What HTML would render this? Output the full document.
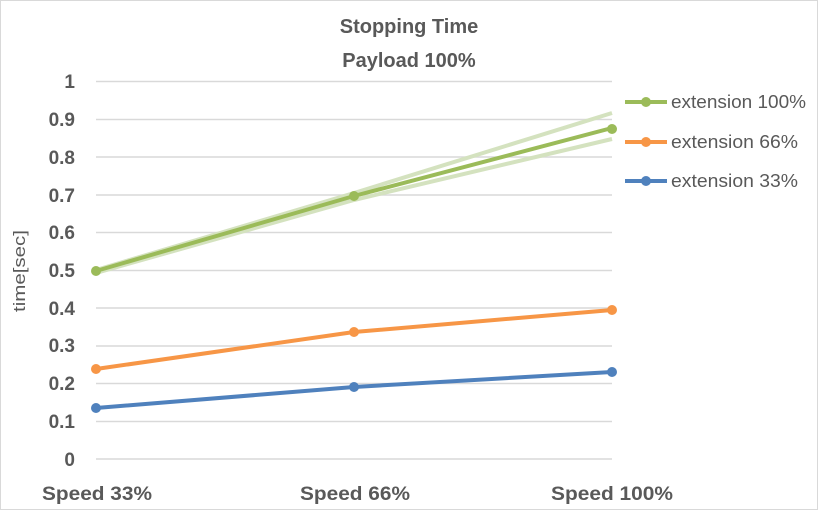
<!DOCTYPE html><html><head><style>body{margin:0;background:#fff}</style></head><body>
<svg width="819" height="511" xmlns="http://www.w3.org/2000/svg" font-family="Liberation Sans, sans-serif">
<rect x="0.5" y="0.5" width="817" height="509" fill="#fff" stroke="#d9d9d9"/>
<text x="409" y="33" text-anchor="middle" font-size="20" font-weight="bold" fill="#595959">Stopping Time</text>
<text x="409" y="67" text-anchor="middle" font-size="20" font-weight="bold" fill="#595959">Payload 100%</text>
<g stroke="#d9d9d9" stroke-width="1.5">
<line x1="96" x2="612" y1="81.5" y2="81.5"/><line x1="96" x2="612" y1="119.5" y2="119.5"/><line x1="96" x2="612" y1="157" y2="157"/><line x1="96" x2="612" y1="195" y2="195"/><line x1="96" x2="612" y1="232.5" y2="232.5"/><line x1="96" x2="612" y1="270.5" y2="270.5"/><line x1="96" x2="612" y1="308" y2="308"/><line x1="96" x2="612" y1="346" y2="346"/><line x1="96" x2="612" y1="383.5" y2="383.5"/><line x1="96" x2="612" y1="421.5" y2="421.5"/><line x1="96" x2="612" y1="459" y2="459"/>
</g>
<g font-size="19" font-weight="bold" fill="#595959" text-anchor="end">
<text x="75" y="88">1</text><text x="75" y="126">0.9</text><text x="75" y="164">0.8</text><text x="75" y="202">0.7</text><text x="75" y="239">0.6</text><text x="75" y="277">0.5</text><text x="75" y="315">0.4</text><text x="75" y="352">0.3</text><text x="75" y="390">0.2</text><text x="75" y="428">0.1</text><text x="75" y="466">0</text>
</g>
<text transform="translate(25,271) rotate(-90)" text-anchor="middle" font-size="17" fill="#595959" textLength="82" lengthAdjust="spacingAndGlyphs">time[sec]</text>
<g font-size="19" font-weight="bold" fill="#595959" text-anchor="middle">
<text x="97" y="500" textLength="110" lengthAdjust="spacingAndGlyphs">Speed 33%</text><text x="355" y="500" textLength="110" lengthAdjust="spacingAndGlyphs">Speed 66%</text><text x="612" y="500" textLength="122" lengthAdjust="spacingAndGlyphs">Speed 100%</text>
</g>
<g stroke="#d4e2bf" stroke-width="4" fill="none">
<polyline points="96,270 354,193 612,113"/><polyline points="96,273 354,200 612,139"/>
</g>
<polyline points="96,271 354,196 612,128" stroke="#9bbb59" stroke-width="4" fill="none"/>
<polyline points="96,369 354,332 612,310" stroke="#f79646" stroke-width="4" fill="none"/>
<polyline points="96,408 354,387 612,372" stroke="#4f81bd" stroke-width="4" fill="none"/>
<g fill="#9bbb59"><circle cx="96" cy="271" r="5"/><circle cx="354" cy="196" r="5"/><circle cx="612" cy="129" r="5"/></g>
<g fill="#f79646"><circle cx="96" cy="369" r="5"/><circle cx="354" cy="332" r="5"/><circle cx="612" cy="310" r="5"/></g>
<g fill="#4f81bd"><circle cx="96" cy="408" r="5"/><circle cx="354" cy="387" r="5"/><circle cx="612" cy="372" r="5"/></g>
<g stroke-width="4">
<line x1="625" x2="667" y1="102" y2="102" stroke="#9bbb59"/><circle cx="646" cy="102" r="5" fill="#9bbb59" stroke="none"/>
<line x1="625" x2="667" y1="142" y2="142" stroke="#f79646"/><circle cx="646" cy="142" r="5" fill="#f79646" stroke="none"/>
<line x1="625" x2="667" y1="181" y2="181" stroke="#4f81bd"/><circle cx="646" cy="181" r="5" fill="#4f81bd" stroke="none"/>
</g>
<g font-size="18" fill="#595959">
<text x="671" y="108" textLength="135" lengthAdjust="spacingAndGlyphs">extension 100%</text><text x="671" y="148" textLength="127" lengthAdjust="spacingAndGlyphs">extension 66%</text><text x="671" y="187" textLength="127" lengthAdjust="spacingAndGlyphs">extension 33%</text>
</g>
</svg>
</body></html>
